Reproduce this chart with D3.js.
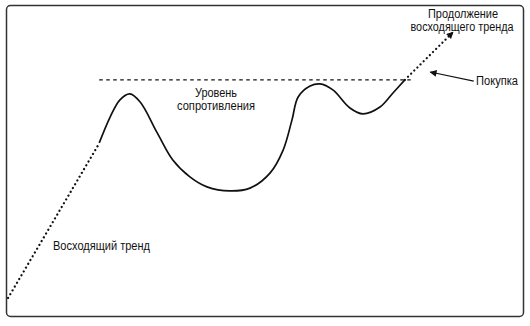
<!DOCTYPE html>
<html><head><meta charset="utf-8">
<script src="https://cdn.jsdelivr.net/npm/d3@7"></script>
<style>
html,body{margin:0;padding:0;background:#fff;}
svg{display:block;}
text{font-family:"Liberation Sans Narrow","Arial Narrow","Liberation Sans",sans-serif;fill:#111;}
</style></head>
<body>
<script>
// Time axis (abstract units) and price (abstract units)
const uptrendX = [0.4, 17.8];
const uptrendY = [6.1, 55.1];

const priceX = [18.0, 20.1, 22.0, 23.9, 25.9, 29.2, 32.2, 35.5, 38.8, 43.2, 47.1, 51.0, 53.5, 55.2, 56.4, 58.7, 60.6, 63.1, 66.4, 68.9, 72.2, 74.7, 77.0];
const priceY = [55.8, 64.1, 69.6, 71.5, 68.9, 59.0, 50.3, 44.9, 41.7, 40.4, 41.3, 46.2, 53.5, 63.1, 70.5, 74.0, 74.7, 72.8, 67.0, 65.1, 67.3, 71.8, 76.0];

const continuationX = [77.0, 86.3];
const continuationY = [76.0, 91.3];

const resistanceLevel = 76.0;
const resistanceX = [18.0, 78.4];

const W = 530, H = 326;
const svg = d3.select("body").append("svg").attr("width", W).attr("height", H);

const x = d3.scaleLinear().domain([0, 100]).range([6, 524]);
const y = d3.scaleLinear().domain([0, 100]).range([317, 5]);

const defs = svg.append("defs");
defs.append("marker").attr("id", "ah").attr("viewBox", "0 0 10 10")
  .attr("refX", 9).attr("refY", 5).attr("markerWidth", 9).attr("markerHeight", 7)
  .attr("markerUnits", "userSpaceOnUse").attr("orient", "auto")
  .append("path").attr("d", "M0,0 L10,5 L0,10 z").attr("fill", "#111");

// frame
svg.append("rect").attr("x", 6.5).attr("y", 5.5).attr("width", 517).attr("height", 311)
  .attr("rx", 4).attr("fill", "none").attr("stroke", "#333").attr("stroke-width", 1.5);

const line = d3.line().x(d => x(d[0])).y(d => y(d[1]));

// uptrend dotted
svg.append("path").datum(d3.zip(uptrendX, uptrendY)).attr("d", line)
  .attr("fill", "none").attr("stroke", "#111").attr("stroke-width", 2.2)
  .attr("stroke-linecap", "round").attr("stroke-dasharray", "0.1 4.3");

// resistance dashed
svg.append("path").datum(resistanceX.map(v => [v, resistanceLevel])).attr("d", line)
  .attr("fill", "none").attr("stroke", "#111").attr("stroke-width", 1.4)
  .attr("stroke-dasharray", "3.5 3.5");

// price curve
svg.append("path").datum(d3.zip(priceX, priceY))
  .attr("d", d3.line().x(d => x(d[0])).y(d => y(d[1])).curve(d3.curveCatmullRom.alpha(0.5)))
  .attr("fill", "none").attr("stroke", "#111").attr("stroke-width", 1.7);

// continuation dotted with arrow
svg.append("path").datum(d3.zip(continuationX, continuationY)).attr("d", line)
  .attr("fill", "none").attr("stroke", "#111").attr("stroke-width", 2.2)
  .attr("stroke-linecap", "round").attr("stroke-dasharray", "0.1 4.3");
{
  const x1 = x(continuationX[0]), y1 = y(continuationY[0]);
  const x2 = x(continuationX[1]), y2 = y(continuationY[1]);
  svg.append("path").attr("d", `M${x2 - (x2-x1)*0.01},${y2 - (y2-y1)*0.01} L${x2},${y2}`)
    .attr("stroke", "none").attr("marker-end", "url(#ah)");
}

// buy arrow
svg.append("line").attr("x1", x(90.3)).attr("y1", y(75.6)).attr("x2", x(81.9)).attr("y2", y(78.5))
  .attr("stroke", "#111").attr("stroke-width", 1.1).attr("marker-end", "url(#ah)");

// labels
const fs = 12.5;
function label(txt, xx, yy, anchor, len) {
  svg.append("text").attr("x", xx).attr("y", yy).attr("text-anchor", anchor)
    .attr("font-size", fs).attr("textLength", len).attr("lengthAdjust", "spacingAndGlyphs").text(txt);
}
label("Уровень", 216, 97, "middle", 42);
label("сопротивления", 216, 110, "middle", 78);
label("Продолжение", 463, 18, "middle", 70);
label("восходящего тренда", 462, 31, "middle", 103);
label("Покупка", 476, 85, "start", 42);
label("Восходящий тренд", 53, 250, "start", 97);
</script>
</body></html>
